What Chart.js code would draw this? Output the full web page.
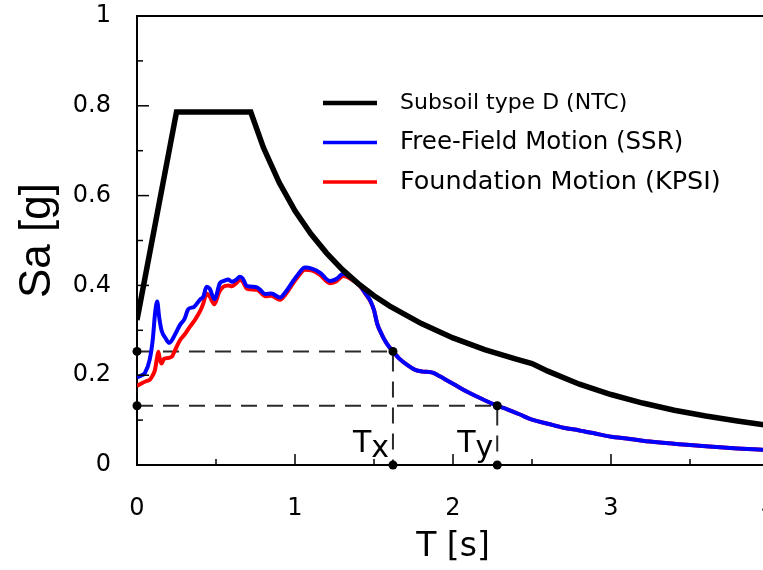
<!DOCTYPE html>
<html>
<head>
<meta charset="utf-8">
<script src="https://cdn.jsdelivr.net/npm/chart.js@4"></script>
<style>
  html, body { margin: 0; padding: 0; background: #fff; overflow: hidden; }
  #wrap { width: 763px; height: 570px; overflow: hidden; }
</style>
</head>
<body>
<div id="wrap"><canvas id="chart" width="780" height="570"></canvas></div>
<script>
// Design spectrum, subsoil type D (NTC)
const ntcT  = [0, 0.25, 0.72, 0.8, 0.9, 1.0, 1.1, 1.2, 1.3, 1.4, 1.5, 1.6, 1.8, 2.0, 2.2, 2.4, 2.5, 2.6, 2.8, 3.0, 3.2, 3.4, 3.6, 3.8, 4.0];
const ntcSa = [0.323, 0.786, 0.786, 0.707, 0.629, 0.566, 0.515, 0.472, 0.435, 0.404, 0.377, 0.354, 0.315, 0.283, 0.257, 0.236, 0.226, 0.209, 0.180, 0.157, 0.138, 0.122, 0.109, 0.098, 0.088];

// Free-field motion (SSR)
const ffT  = [0, 0.03, 0.05, 0.08, 0.1, 0.115, 0.128, 0.14, 0.155, 0.18, 0.204, 0.24, 0.272, 0.3, 0.325, 0.36, 0.4, 0.42, 0.44, 0.46, 0.49, 0.525, 0.55, 0.578, 0.6, 0.625, 0.652, 0.67, 0.694, 0.757, 0.78, 0.81, 0.85, 0.905, 0.94, 0.979, 1.02, 1.063, 1.11, 1.16, 1.22, 1.26, 1.306, 1.35, 1.41, 1.45, 1.475, 1.5, 1.52, 1.55, 1.58, 1.62, 1.66, 1.71, 1.76, 1.81, 1.85, 1.875, 1.92, 1.96, 2.02, 2.09, 2.19, 2.28, 2.35, 2.42, 2.5, 2.6, 2.7, 2.8, 2.9, 3.0, 3.1, 3.2, 3.31, 3.48, 3.6, 3.8, 4.0];
const ffSa = [0.195, 0.200, 0.205, 0.234, 0.28, 0.34, 0.364, 0.33, 0.30, 0.283, 0.272, 0.29, 0.312, 0.325, 0.347, 0.352, 0.369, 0.375, 0.397, 0.393, 0.369, 0.405, 0.41, 0.413, 0.408, 0.412, 0.419, 0.415, 0.399, 0.396, 0.39, 0.381, 0.382, 0.373, 0.385, 0.405, 0.425, 0.44, 0.437, 0.428, 0.41, 0.414, 0.426, 0.418, 0.40, 0.38, 0.367, 0.345, 0.315, 0.29, 0.271, 0.253, 0.237, 0.223, 0.212, 0.208, 0.207, 0.205, 0.197, 0.189, 0.177, 0.163, 0.146, 0.132, 0.123, 0.113, 0.101, 0.092, 0.083, 0.077, 0.070, 0.063, 0.059, 0.054, 0.050, 0.045, 0.042, 0.037, 0.033];

// Foundation motion (KPSI)
const fdT  = [0, 0.03, 0.06, 0.082, 0.1, 0.114, 0.125, 0.135, 0.145, 0.155, 0.17, 0.188, 0.22, 0.24, 0.272, 0.3, 0.335, 0.37, 0.4, 0.42, 0.44, 0.46, 0.49, 0.52, 0.546, 0.578, 0.6, 0.625, 0.652, 0.67, 0.694, 0.757, 0.78, 0.81, 0.85, 0.905, 0.94, 0.979, 1.02, 1.063, 1.11, 1.16, 1.22, 1.26, 1.306, 1.35, 1.41, 1.45, 1.475, 1.5, 1.52, 1.55, 1.58, 1.62, 1.66, 1.71, 1.76, 1.81, 1.85, 1.875, 1.92, 1.96, 2.02, 2.09, 2.19, 2.28, 2.35, 2.42, 2.5, 2.6, 2.7, 2.8, 2.9, 3.0, 3.1, 3.2, 3.31, 3.48, 3.6, 3.8, 4.0];
const fdSa = [0.176, 0.182, 0.187, 0.190, 0.2, 0.212, 0.235, 0.252, 0.235, 0.226, 0.236, 0.238, 0.241, 0.255, 0.278, 0.29, 0.308, 0.325, 0.343, 0.36, 0.382, 0.375, 0.358, 0.385, 0.397, 0.400, 0.398, 0.404, 0.412, 0.408, 0.393, 0.390, 0.385, 0.376, 0.377, 0.368, 0.380, 0.400, 0.420, 0.435, 0.433, 0.423, 0.405, 0.409, 0.421, 0.415, 0.399, 0.379, 0.366, 0.345, 0.315, 0.29, 0.271, 0.253, 0.237, 0.223, 0.212, 0.208, 0.207, 0.205, 0.197, 0.189, 0.177, 0.163, 0.146, 0.132, 0.123, 0.113, 0.101, 0.092, 0.083, 0.077, 0.070, 0.063, 0.059, 0.054, 0.050, 0.045, 0.042, 0.037, 0.033];

// Marked periods Tx, Ty and their spectral values
const markLabels = ["x", "y"];
const markT  = [1.62, 2.28];
const markSa = [0.253, 0.132];

const seriesLabels = ["Subsoil type D (NTC)", "Free-Field Motion (SSR)", "Foundation Motion (KPSI)"];

const pts = (xs, ys) => xs.map((x, i) => ({ x: x, y: ys[i] }));

// dashed guides: from the Sa axis across to the curve, then down to T axis
const guides = markT.map((t, i) => ({
  type: "line",
  data: [{ x: 0, y: markSa[i] }, { x: t, y: markSa[i] }, { x: t, y: 0 }],
  borderColor: "#2a2a2a",
  borderWidth: 2,
  borderDash: [16, 10],
  pointRadius: 0,
  order: 5
}));

const dots = [];
markT.forEach((t, i) => {
  dots.push({ x: 0, y: markSa[i] }, { x: t, y: markSa[i] }, { x: t, y: 0 });
});

const legendFonts = [22, 24.5, 25.5];

// inward ticks, top frame line, legend and Tx / Ty labels
const decorations = {
  id: "decorations",
  afterDraw(chart) {
    const ctx = chart.ctx;
    const xs = chart.scales.x, ys = chart.scales.y;
    const area = chart.chartArea;
    ctx.save();
    ctx.strokeStyle = "#000";

    ctx.lineWidth = 1.5;
    for (let i = 1; i <= 10; i++) {
      const py = ys.getPixelForValue(i / 10);
      const len = i % 2 === 0 ? 12 : 6;
      ctx.beginPath();
      ctx.moveTo(area.left, py);
      ctx.lineTo(area.left + len, py);
      ctx.stroke();
    }
    for (let i = 1; i <= 8; i++) {
      const px = xs.getPixelForValue(i / 2);
      const len = i % 2 === 0 ? 11 : 6;
      ctx.beginPath();
      ctx.moveTo(px, area.bottom);
      ctx.lineTo(px, area.bottom - len);
      ctx.stroke();
    }

    ctx.lineWidth = 2;
    ctx.beginPath();
    ctx.moveTo(area.left - 1, area.top);
    ctx.lineTo(area.right, area.top);
    ctx.stroke();

    // legend
    const sets = [chart.data.datasets[1], chart.data.datasets[2], chart.data.datasets[3]];
    sets.forEach((ds, i) => {
      const y = 103 + i * 39.5;
      ctx.strokeStyle = ds.borderColor;
      ctx.lineWidth = i === 0 ? 4.5 : 3.5;
      ctx.beginPath();
      ctx.moveTo(323, y);
      ctx.lineTo(377, y);
      ctx.stroke();
      ctx.fillStyle = "#000";
      ctx.font = legendFonts[i] + "px 'DejaVu Sans'";
      ctx.textBaseline = "middle";
      ctx.textAlign = "left";
      ctx.fillText(ds.label, 400, y);
    });

    // Tx, Ty
    ctx.fillStyle = "#000";
    ctx.textBaseline = "alphabetic";
    ctx.textAlign = "left";
    markT.forEach((t, i) => {
      const px = xs.getPixelForValue(t);
      const base = ys.getPixelForValue(0) - 13;
      ctx.font = "30px 'DejaVu Sans'";
      const w = ctx.measureText("T").width;
      ctx.fillText("T", px - 40, base);
      ctx.fillText(markLabels[i], px - 40 + w, base + 5);
    });
    ctx.restore();
  }
};

const fmt = v => String(Math.round(v * 10) / 10);

new Chart(document.getElementById("chart"), {
  type: "line",
  data: {
    datasets: [
      {
        label: "marks",
        data: dots,
        showLine: false,
        pointRadius: 4.5,
        pointBackgroundColor: "#000",
        pointBorderWidth: 0,
        clip: false,
        order: 0
      },
      {
        label: seriesLabels[0],
        data: pts(ntcT, ntcSa),
        borderColor: "#000",
        borderWidth: 5.5,
        pointRadius: 0,
        order: 1
      },
      {
        label: seriesLabels[1],
        data: pts(ffT, ffSa),
        borderColor: "#0000ff",
        borderWidth: 4,
        pointRadius: 0,
        cubicInterpolationMode: "monotone",
        order: 2
      },
      {
        label: seriesLabels[2],
        data: pts(fdT, fdSa),
        borderColor: "#ff0000",
        borderWidth: 4,
        pointRadius: 0,
        cubicInterpolationMode: "monotone",
        order: 3
      },
      ...guides
    ]
  },
  options: {
    responsive: false,
    animation: false,
    layout: { padding: { left: 0, top: 16, right: 11, bottom: 0 } },
    plugins: { legend: { display: false }, tooltip: { enabled: false } },
    scales: {
      x: {
        type: "linear",
        min: 0,
        max: 4,
        ticks: { stepSize: 1, color: "#000", font: { family: "DejaVu Sans", size: 24 }, padding: 0, maxRotation: 0, autoSkip: false, callback: fmt },
        grid: { display: false, drawTicks: true, tickLength: 29 },
        border: { display: true, color: "#000", width: 2 },
        title: { display: true, text: "T [s]", color: "#000", font: { family: "DejaVu Sans", size: 33 }, padding: { top: 0, bottom: 3 } },
        afterFit(scale) { scale.height = 105; }
      },
      y: {
        min: 0,
        max: 1,
        ticks: { stepSize: 0.2, color: "#000", font: { family: "DejaVu Sans", size: 24 }, padding: 0, callback: fmt },
        grid: { display: false, drawTicks: true, tickLength: 26 },
        border: { display: true, color: "#000", width: 2 },
        title: { display: true, text: "Sa [g]", color: "#000", font: { family: "Liberation Sans", size: 44 }, padding: { top: 11, bottom: 0 } },
        afterFit(scale) { scale.width = 137; }
      }
    }
  },
  plugins: [decorations]
});
</script>
</body>
</html>
